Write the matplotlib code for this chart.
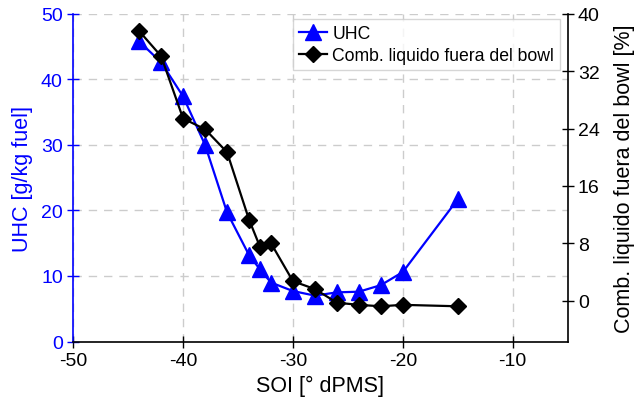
import matplotlib
matplotlib.use("Agg")
import matplotlib.pyplot as plt

plt.rcParams['font.family'] = ['Liberation Sans', 'DejaVu Sans']
plt.rcParams['axes.unicode_minus'] = False

soi_uhc = [-44, -42, -40, -38, -36, -34, -33, -32, -30, -28, -26, -24, -22, -20, -15]
uhc = [45.8, 42.6, 37.4, 30.0, 19.7, 13.2, 11.0, 9.0, 7.7, 7.0, 7.5, 7.6, 8.6, 10.6, 21.7]

soi_comb = [-44, -42, -40, -38, -36, -34, -33, -32, -30, -28, -26, -24, -22, -20, -15]
comb = [37.6, 34.1, 25.4, 23.9, 20.7, 11.3, 7.5, 8.0, 2.7, 1.6, -0.3, -0.6, -0.8, -0.6, -0.8]

x_ticks = [-50, -40, -30, -20, -10]
left_ticks = [0, 10, 20, 30, 40, 50]
right_ticks = [0, 8, 16, 24, 32, 40]

fig = plt.figure(figsize=(6.37, 4.02), dpi=100)
ax = fig.add_axes([0.115, 0.148, 0.776, 0.815])
ax2 = ax.twinx()

l1, = ax.plot(soi_uhc, uhc, color='#0000ff', marker='^', markersize=11, lw=1.6,
              label='UHC', zorder=3)
l2, = ax2.plot(soi_comb, comb, color='black', marker='D', markersize=8, lw=1.6,
               label='Comb. liquido fuera del bowl', zorder=3)

ax.set_xlim(-50, -5)
ax.set_ylim(0, 50)
ax2.set_ylim(-40 / 7, 40)
ax.set_xticks(x_ticks)
ax.set_yticks(left_ticks)
ax2.set_yticks(right_ticks)

ax.grid(True, color='#cccccc', linestyle=(0, (6, 5)), lw=1)
ax.set_axisbelow(True)

for a in (ax, ax2):
    a.spines['top'].set_visible(False)
ax.spines['left'].set_color('#0000ff')
ax.spines['right'].set_visible(False)
ax2.spines['left'].set_visible(False)
ax2.spines['bottom'].set_visible(False)
ax2.spines['right'].set_color('black')
for s in ('left', 'bottom'):
    ax.spines[s].set_linewidth(1.2)
ax2.spines['right'].set_linewidth(1.2)

ax.tick_params(axis='y', colors='#0000ff', labelsize=14, direction='inout', length=8, width=1)
ax.tick_params(axis='x', colors='black', labelsize=14, direction='inout', length=8, width=1)
ax2.tick_params(axis='y', colors='black', labelsize=14, direction='inout', length=8, width=1)

ax.set_xlabel('SOI [° dPMS]', fontsize=15.5, labelpad=4)
ax.set_ylabel('UHC [g/kg fuel]', fontsize=15.5, color='#0000ff', labelpad=6)
ax2.set_ylabel('Comb. liquido fuera del bowl [%]', fontsize=15.5, labelpad=10)

leg = ax2.legend(handles=[l1, l2], loc='upper right', bbox_to_anchor=(0.985, 0.985),
                 fontsize=12.7, frameon=True, fancybox=False, handlelength=1.6,
                 handletextpad=0.3, borderpad=0.35, labelspacing=0.3, borderaxespad=0)
leg.get_frame().set_edgecolor('#cccccc')
leg.get_frame().set_linewidth(1)

fig.savefig('out.png', dpi=100)
